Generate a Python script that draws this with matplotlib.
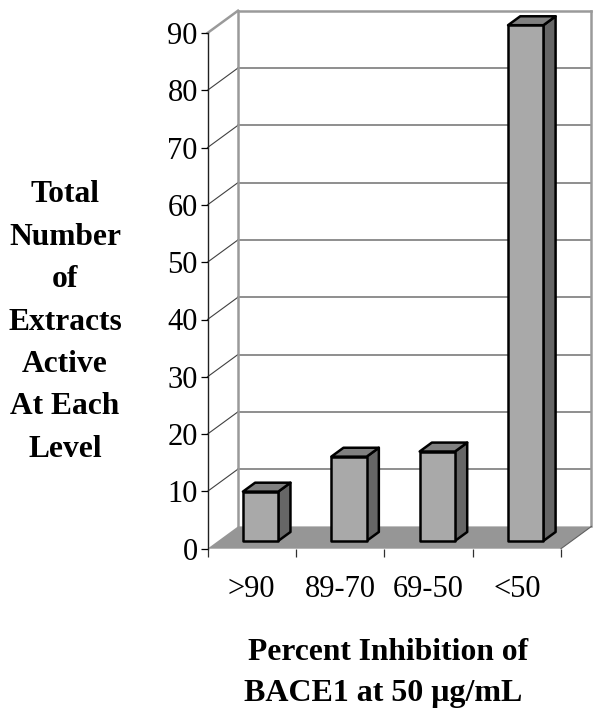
import matplotlib
matplotlib.use("Agg")
import matplotlib.pyplot as plt

plt.rcParams['font.family'] = ['Liberation Serif', 'DejaVu Serif']

categories = [">90", "89-70", "69-50", "<50"]
values = [8.6, 14.7, 15.6, 90]
y_ticks = list(range(0, 100, 10))
y_label = "Total\nNumber\nof\nExtracts\nActive\nAt Each\nLevel"
x_label_1 = "Percent Inhibition of"
x_label_2 = "BACE1 at 50 \u03bcg/mL"

W, H = 602, 719
fig = plt.figure(figsize=(W / 100, H / 100), dpi=100, facecolor="white")
ax = fig.add_axes([207.5 / W, (H - 548.7) / H, 353.5 / W, 515.7 / H])
ax.set_xlim(0, 4)
ax.set_ylim(0, 90)

# oblique depth of the pseudo-3D box, in data units per unit of depth
DX, DY = 30.5 / 88.4, 22.3 / 5.73


def proj(x, y, d):
    return x + d * DX, y + d * DY


def face(points, **kw):
    xs, ys = zip(*[proj(*p) for p in points])
    return ax.fill(xs, ys, clip_on=False, **kw)


def seg(p, q, **kw):
    a, b = proj(*p), proj(*q)
    ax.plot([a[0], b[0]], [a[1], b[1]], clip_on=False, solid_capstyle="projecting", **kw)


WALL = "#9a9a9a"
GRID = "#707070"

# back-wall gridlines and left-wall diagonals
for t in y_ticks[1:-1]:
    seg((0, t, 1), (4, t, 1), color=GRID, lw=1.1, zorder=1)
    seg((0, t, 0), (0, t, 1), color="#404040", lw=0.8, zorder=1)

# wall outline
seg((0, 90, 0), (0, 90, 1), color=WALL, lw=1.8, zorder=1.2)
seg((0, 90, 1), (4, 90, 1), color=WALL, lw=1.8, zorder=1.2)
seg((0, 0, 1), (0, 90, 1), color=WALL, lw=1.8, zorder=1.2)
seg((4, 0, 1), (4, 90, 1), color=WALL, lw=1.8, zorder=1.2)

# floor
face([(0, 0, 0), (4, 0, 0), (4, 0, 1), (0, 0, 1)], facecolor="#969696", edgecolor="none", zorder=1.5)
seg((4, 0, 0), (4, 0, 1), color="#606060", lw=0.8, zorder=1.6)

# bars
D0, D1 = 0.35, 0.75
BW = 0.40
for i, v in enumerate(values):
    x0 = i + 0.5 - 0.02 - BW / 2
    x1 = x0 + BW
    style = dict(edgecolor="black", linewidth=1.8, joinstyle="round", zorder=3 + i)
    face([(x1, 0, D0), (x1, 0, D1), (x1, v, D1), (x1, v, D0)], facecolor="#666666", **style)
    face([(x0, v, D0), (x1, v, D0), (x1, v, D1), (x0, v, D1)], facecolor="#808080", **style)
    face([(x0, 0, D0), (x1, 0, D0), (x1, v, D0), (x0, v, D0)], facecolor="#a9a9a9", **style)

# axes
for s in ("top", "right", "bottom"):
    ax.spines[s].set_visible(False)
ax.spines["left"].set_color("#202020")
ax.spines["left"].set_linewidth(1.0)
ax.patch.set_visible(False)

ax.set_yticks(y_ticks)
ax.tick_params(axis="y", length=5, width=0.9, pad=2, labelsize=22)
ax.set_xticks(range(5))
ax.set_xticklabels([""] * 5)
ax.tick_params(axis="x", which="major", length=6, width=0.9, color="#303030")
ax.set_xticks([i + 0.5 for i in range(4)], minor=True)
ax.set_xticklabels(categories, minor=True, fontsize=22)
ax.tick_params(axis="x", which="minor", length=0, pad=19)

# titles
fig.text(65 / W, 1 - 322 / H, y_label, ha="center", va="center", fontsize=22.7,
         fontweight="bold", linespacing=1.61)
fig.text(388 / W, 1 - 652 / H, x_label_1, ha="center", va="center", fontsize=22.7, fontweight="bold")
fig.text(383 / W, 1 - 694 / H, x_label_2, ha="center", va="center", fontsize=23, fontweight="bold")

fig.savefig("out.png", dpi=100, facecolor="white")
